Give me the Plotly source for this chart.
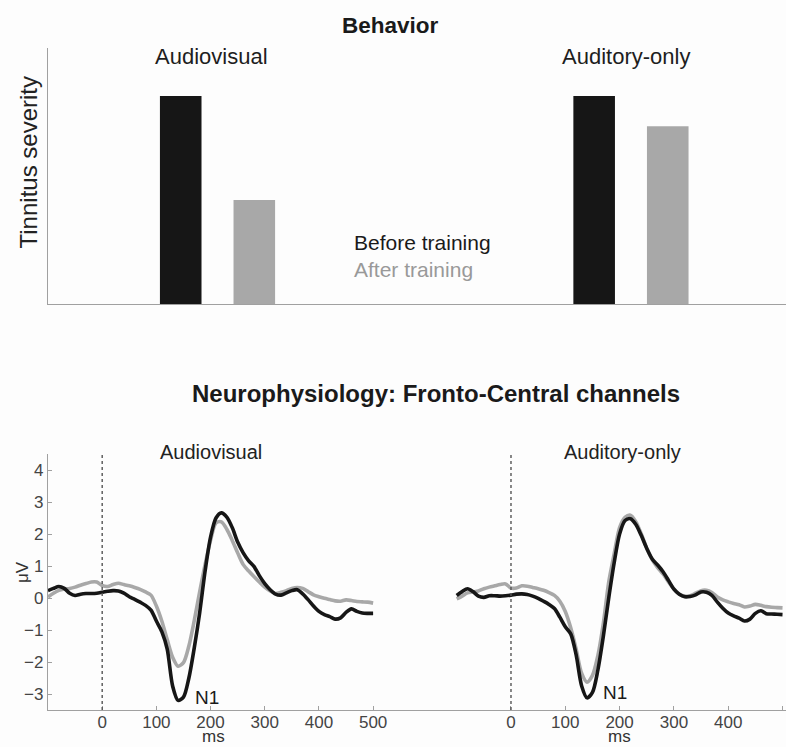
import plotly.graph_objects as go

# ---------------- data ----------------
conditions = ["Audiovisual", "Auditory-only"]
severity_before = [1.0, 1.0]
severity_after = [0.50, 0.855]

time_ms = list(range(-100, 501, 10))

av_before = [0.23, 0.30, 0.36, 0.30, 0.15, 0.08, 0.12, 0.14, 0.14, 0.15,
             0.18, 0.21, 0.23, 0.22, 0.15, 0.04, -0.04, -0.13, -0.23, -0.38,
             -0.72, -1.05, -1.60, -2.75, -3.20, -3.10, -2.50, -1.55, -0.45, 0.85,
             1.90, 2.50, 2.66, 2.53, 2.20, 1.75, 1.42, 1.17, 0.99, 0.70,
             0.45, 0.26, 0.12, 0.09, 0.16, 0.23, 0.26, 0.13, -0.05, -0.25,
             -0.42, -0.52, -0.58, -0.66, -0.62, -0.45, -0.34, -0.42, -0.47, -0.48,
             -0.48]
av_after = [0.03, 0.15, 0.24, 0.28, 0.30, 0.34, 0.40, 0.45, 0.50, 0.50,
            0.39, 0.36, 0.42, 0.46, 0.42, 0.38, 0.33, 0.27, 0.19, 0.09,
            -0.25, -0.72, -1.30, -1.85, -2.13, -2.02, -1.50, -0.70, 0.20, 1.05,
            1.80, 2.35, 2.38, 2.15, 1.80, 1.41, 1.05, 0.85, 0.67, 0.50,
            0.34, 0.22, 0.14, 0.18, 0.23, 0.30, 0.33, 0.30, 0.20, 0.10,
            0.04, -0.01, -0.05, -0.09, -0.10, -0.06, -0.08, -0.11, -0.12, -0.13,
            -0.16]
ao_before = [0.08, 0.20, 0.29, 0.20, 0.06, 0.02, 0.07, 0.07, 0.06, 0.07,
             0.09, 0.12, 0.13, 0.11, 0.06, -0.01, -0.10, -0.20, -0.33, -0.60,
             -0.90, -1.12, -1.78, -2.74, -3.12, -2.95, -2.25, -1.20, 0.00, 1.10,
             2.00, 2.42, 2.48, 2.30, 1.95, 1.55, 1.22, 1.03, 0.82, 0.55,
             0.28, 0.12, 0.04, 0.05, 0.10, 0.19, 0.18, 0.08, -0.13, -0.32,
             -0.47, -0.56, -0.63, -0.72, -0.66, -0.48, -0.40, -0.49, -0.50, -0.51,
             -0.52]
ao_after = [-0.03, 0.06, 0.16, 0.19, 0.22, 0.29, 0.34, 0.38, 0.42, 0.44,
            0.31, 0.31, 0.38, 0.37, 0.33, 0.29, 0.24, 0.17, 0.08, -0.10,
            -0.42, -0.93, -1.60, -2.35, -2.63, -2.42, -1.80, -0.80, 0.50, 1.38,
            2.20, 2.52, 2.59, 2.38, 2.00, 1.55, 1.20, 0.95, 0.75, 0.50,
            0.28, 0.12, 0.06, 0.07, 0.15, 0.23, 0.24, 0.17, 0.03, -0.06,
            -0.12, -0.17, -0.21, -0.28, -0.25, -0.20, -0.23, -0.27, -0.29, -0.30,
            -0.31]

x_ticks = [0, 100, 200, 300, 400, 500]
y_ticks = [-3, -2, -1, 0, 1, 2, 3, 4]

# ---------------- styles ----------------
FONT = "Liberation Sans, Arial, sans-serif"
BLACK = "#161616"
GRAY = "#a8a8a8"
AXIS = "#a0a0a0"
BG = "#fdfdfd"
W, H = 786, 747

def px(v):
    return v / W

def py(v):
    return 1 - v / H

fig = go.Figure()

# ---- behaviour bars ----
fig.add_trace(go.Bar(x=conditions, y=severity_before, name="Before training",
                     marker=dict(color=BLACK, line=dict(width=0)),
                     xaxis="x", yaxis="y", showlegend=False))
fig.add_trace(go.Bar(x=conditions, y=severity_after, name="After training",
                     marker=dict(color=GRAY, line=dict(width=0)),
                     xaxis="x", yaxis="y", showlegend=False))

# ---- ERP curves ----
for xa, ya, after, before in [("x2", "y2", av_after, av_before),
                              ("x3", "y3", ao_after, ao_before)]:
    fig.add_trace(go.Scatter(x=time_ms, y=after, mode="lines",
                             line=dict(color=GRAY, width=3.6, shape="spline", smoothing=0.8),
                             xaxis=xa, yaxis=ya, showlegend=False, name="After training"))
    fig.add_trace(go.Scatter(x=time_ms, y=before, mode="lines",
                             line=dict(color=BLACK, width=3.6, shape="spline", smoothing=0.8),
                             xaxis=xa, yaxis=ya, showlegend=False, name="Before training"))

top_y = [py(304), py(48)]
bot_y = [py(710), py(454)]
split = px(404)

xtick_common = dict(tickvals=x_ticks, ticks="inside", ticklen=4, tickcolor=AXIS,
                    showline=True, linecolor=AXIS, linewidth=1.2,
                    tickfont=dict(size=17, color="#444444"),
                    ticklabelstandoff=-4,
                    showgrid=False, zeroline=False)

fig.update_layout(
    width=W, height=H,
    margin=dict(l=0, r=0, t=0, b=0),
    paper_bgcolor=BG, plot_bgcolor=BG,
    font=dict(family=FONT, color="#222222"),
    barmode="group", bargap=0.644, bargroupgap=0.435,
    xaxis=dict(domain=[px(48), 1], range=[-0.41, 1.375], showticklabels=False,
               ticks="", showline=True, linecolor=AXIS, linewidth=1.2,
               showgrid=False, zeroline=False, fixedrange=True),
    yaxis=dict(domain=top_y, range=[0, 1.231], showticklabels=False, ticks="",
               showline=True, linecolor=AXIS, linewidth=1.2,
               showgrid=False, zeroline=False),
    xaxis2=dict(domain=[px(48), split], range=[-100, 557], anchor="y2", **xtick_common),
    yaxis2=dict(domain=bot_y, range=[-3.5, 4.5], anchor="x2",
                tickvals=y_ticks, ticks="inside", ticklen=4, tickcolor=AXIS,
                showline=True, linecolor=AXIS, linewidth=1.2,
                tickfont=dict(size=17, color="#444444"),
                showgrid=False, zeroline=False),
    xaxis3=dict(domain=[split, 1], range=[-197, 506.4], anchor="y3", **xtick_common),
    yaxis3=dict(domain=bot_y, range=[-3.5, 4.5], anchor="x3",
                showticklabels=False, ticks="", showline=False,
                showgrid=False, zeroline=False),
)

# dotted stimulus-onset lines
for xa, ya in [("x2", "y2"), ("x3", "y3")]:
    fig.add_shape(type="line", xref=xa, yref=ya, x0=0, x1=0, y0=-3.5, y1=4.5,
                  line=dict(color="#555555", width=1.4, dash="dot"))

C = dict(xanchor="center", yanchor="middle", showarrow=False)
ann = []
# titles
ann.append(dict(text="<b>Behavior</b>", x=px(390), y=py(26), xref="paper", yref="paper",
                font=dict(size=22.5, color="#1a1a1a"), **C))
ann.append(dict(text="<b>Neurophysiology: Fronto-Central channels</b>", x=px(436), y=py(393),
                xref="paper", yref="paper", font=dict(size=24, color="#1a1a1a"), **C))
# behaviour category labels
for c, shift in zip(conditions, [-6, -5]):
    ann.append(dict(text=c, x=c, xref="x", y=py(56), yref="paper", xshift=shift,
                    font=dict(size=22, color="#1e1e1e"), **C))
# y title behaviour
ann.append(dict(text="Tinnitus severity", x=px(27.5), y=py(162), xref="paper", yref="paper",
                textangle=-90, font=dict(size=24, color="#222222"), **C))
# legend text
ann.append(dict(text="Before training", x=px(352), y=py(242), xref="paper", yref="paper",
                xanchor="left", yanchor="middle", showarrow=False,
                font=dict(size=21, color="#1a1a1a")))
ann.append(dict(text="After training", x=px(352), y=py(269), xref="paper", yref="paper",
                xanchor="left", yanchor="middle", showarrow=False,
                font=dict(size=21, color="#999999")))
# ERP panel labels
ann.append(dict(text="Audiovisual", x=200, xref="x2", y=py(452), yref="paper",
                font=dict(size=20, color="#222222"), **C))
ann.append(dict(text="Auditory-only", x=206, xref="x3", y=py(452), yref="paper",
                font=dict(size=20, color="#222222"), **C))
# N1 labels
ann.append(dict(text="N1", x=193, y=-3.12, xref="x2", yref="y2",
                font=dict(size=19, color="#1a1a1a"), **C))
ann.append(dict(text="N1", x=191.5, y=-2.96, xref="x3", yref="y3",
                font=dict(size=19, color="#1a1a1a"), **C))
# axis titles
ann.append(dict(text="μV", x=px(22), y=py(572), xref="paper", yref="paper",
                textangle=-90, font=dict(size=17, color="#333333"), **C))
for xa, xc in [("x2", 205), ("x3", 200)]:
    ann.append(dict(text="ms", x=xc, xref=xa, y=0, yref="paper",
                    xanchor="center", yanchor="bottom", showarrow=False, borderpad=0,
                    font=dict(size=17, color="#333333")))

fig.update_layout(annotations=ann)

fig.write_html("out.html", config={"displayModeBar": False},
               post_script="document.body.style.margin='0px';document.body.style.overflow='hidden';")
